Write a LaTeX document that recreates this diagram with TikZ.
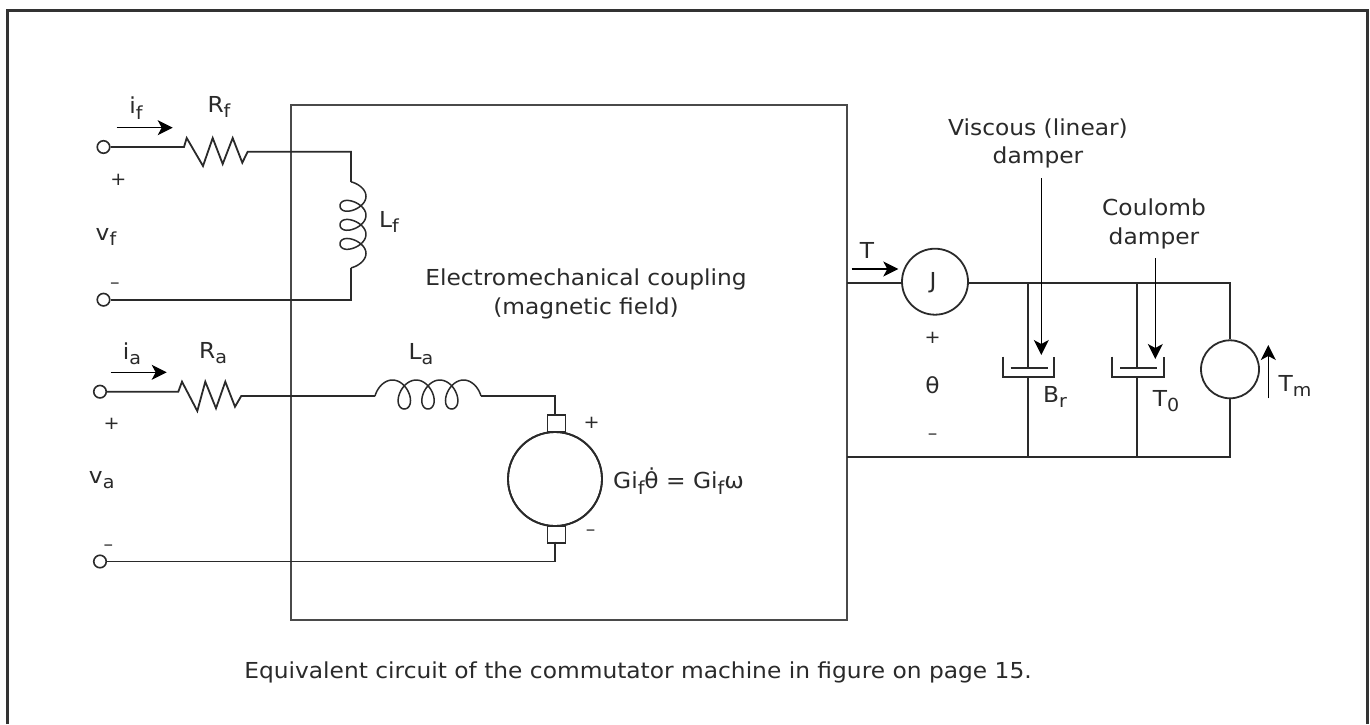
\documentclass[tikz,border=0pt]{standalone}
\usepackage{fontspec}
\setmainfont{DejaVu Sans}[FakeStretch=1.06]
\usetikzlibrary{arrows.meta}
\definecolor{ink}{HTML}{2A2A2A}
\definecolor{frameink}{HTML}{333333}
\newcommand{\subsc}[1]{\raisebox{-0.25em}{\fontsize{18}{18}\selectfont #1}}
\tikzset{
  wire/.style={draw=ink,line width=1.8pt,line join=miter},
  coilline/.style={draw=ink,line width=1.5pt},
  term/.style={circle,draw=ink,line width=1.6pt,fill=white,minimum size=12.5pt,inner sep=0pt},
  disc/.style={circle,draw=ink,line width=1.8pt,fill=white,inner sep=0pt},
  lbl/.style={inner sep=0pt,text=ink,font=\fontsize{22}{28.5}\selectfont,align=center},
  signlbl/.style={lbl,font=\fontsize{18}{18}\selectfont},
  pointer/.style={draw=black,line width=1.5pt,-{Stealth[length=15pt,width=15pt,inset=4pt]}},
  brush/.style={draw=ink,line width=1.8pt,fill=white,minimum width=18pt,minimum height=17pt,inner sep=0pt},
}
\begin{document}
\begin{tikzpicture}[x=1pt,y=-1pt]
\useasboundingbox (0,0) rectangle (1370,724);
\fill[white] (0,0) rectangle (1370,724);
% outer frame (open at bottom)
\coordinate (fa) at (7,724); \coordinate (fb) at (7,10.5); \coordinate (fc) at (1367,10.5); \coordinate (fd) at (1367,724);
\draw[frameink,line width=3pt,line join=miter] (fa) -- (fb) -- (fc) -- (fd);

% coupling box
\node[draw=ink!85,line width=2.2pt,minimum width=556pt,minimum height=515pt,inner sep=0pt,outer sep=0pt] (box) at (569,362.5) {};

% field circuit
\node[term] (tf1) at (103.5,147) {};
\node[term] (tf2) at (103.5,299.7) {};
\coordinate (rf1) at (184,147);
\coordinate (rf2) at (247.7,151.7);
\coordinate (lf1) at (351,181.8);
\coordinate (lf2) at (351,267.9);
\coordinate (lfc) at (351,151.7);
\coordinate (lfd) at (351,299.7);
\draw[wire] (tf1) -- (rf1) -- (186.7,138) -- (203,166) -- (212.7,138) -- (222.7,164) -- (232.7,138) -- (242.3,162.7) -- (rf2) -- (lfc) -- (lf1);
\draw[coilline] plot[domain=-1.5708:20.4204,samples=140,smooth] ({351+13*cos(\x r)+2*cos(\x r)*cos(\x r)},{224.85+3.03*(\x-9.4248)+9.7*sin(\x r)});
\draw[wire] (lf2) -- (lfd) -- (tf2);

% armature circuit
\node[term] (ta1) at (100,391.7) {};
\node[term] (ta2) at (100,561.5) {};
\coordinate (ra1) at (178.3,391.7);
\coordinate (ra2) at (241.3,395.9);
\coordinate (la1) at (375,396);
\coordinate (la2) at (481,396);
\coordinate (lac) at (555,396);
\coordinate (gt) at (555,415.7);
\coordinate (gb) at (555,541.7);
\coordinate (lad) at (555,561.5);
\node[disc,minimum size=94pt] (gen) at (555,479) {};
\node[brush,anchor=south] (bt) at (556.5,432.7) {};
\node[brush,anchor=north] (bb) at (556.5,525) {};
\draw[wire] (ta1) -- (ra1) -- (182,381.7) -- (197.3,411) -- (205.3,381.7) -- (216,408.3) -- (225.3,381.7) -- (235,406.7) -- (ra2) -- (la1);
\draw[coilline] plot[domain=-1.5708:20.4204,samples=140,smooth] ({428+3.77*(\x-9.4248)+11.5*sin(\x r)},{396-14.5*cos(\x r)-1.5*cos(\x r)*cos(\x r)});
\draw[wire] (la2) -- (lac) -- (gt);
\draw[wire] (gb) -- (lad) -- (ta2);
\draw[ink,line width=1.8pt] (gen.center) circle (47pt);

% mechanical side
\node[disc,minimum size=66pt] (jm) at (935,281.7) {};
\node[disc,minimum size=58pt] (src) at (1230,369.3) {};
\coordinate (ms) at (847,283.3);
\coordinate (mb) at (847,457.3);
\coordinate (jl) at (902,283.3);
\coordinate (jr) at (968,283.3);
\coordinate (d1t) at (1028.3,283.3);
\coordinate (d1p) at (1028.3,367.7);
\coordinate (d1c) at (1028.3,376.7);
\coordinate (d1b) at (1028.3,457.3);
\coordinate (d2t) at (1137.3,283.3);
\coordinate (d2p) at (1137.3,367.7);
\coordinate (d2c) at (1137.3,376.7);
\coordinate (d2b) at (1137.3,457.3);
\coordinate (st) at (1230,283.3);
\coordinate (sb) at (1230,457.3);
\draw[wire] (ms) -- (jl);
\draw[wire] (jr) -- (d1t) -- (d2t) -- (st) -- (src);
\draw[wire] (src) -- (sb) -- (d2b) -- (d1b) -- (mb);
\draw[wire] (d1t) -- (d1p);
\draw[wire] (d1c) -- (d1b);
\draw[wire] (d2t) -- (d2p);
\draw[wire] (d2c) -- (d2b);
\draw[wire] (1010.7,367.7) -- (1048,367.7);
\draw[wire] (1003.3,356.7) -- (1003.3,376.7) -- (1054.3,376.7) -- (1054.3,356.7);
\draw[wire] (1120,367.7) -- (1156.7,367.7);
\draw[wire] (1112,356.7) -- (1112,376.7) -- (1163.7,376.7) -- (1163.7,356.7);

% pointers
\coordinate (pif1) at (116.7,127.7); \coordinate (pif2) at (172.7,127.7);
\coordinate (pia1) at (110.7,372.3); \coordinate (pia2) at (166.7,372.3);
\coordinate (pt1) at (851.7,269); \coordinate (pt2) at (898.3,269);
\coordinate (ptm1) at (1268.3,398.3); \coordinate (ptm2) at (1268.3,345);
\coordinate (pv1) at (1041.3,178); \coordinate (pv2) at (1041.3,355);
\coordinate (pc1) at (1155.3,258); \coordinate (pc2) at (1155.3,359);
\draw[pointer] (pif1) -- (pif2);
\draw[pointer] (pia1) -- (pia2);
\draw[pointer] (pt1) -- (pt2);
\draw[pointer] (ptm1) -- (ptm2);
\draw[pointer] (pv1) -- (pv2);
\draw[pointer] (pc1) -- (pc2);

% labels
\node[lbl] (lif) at (136,108) {i\subsc{f}};
\node[lbl] (lrf) at (219,107) {R\subsc{f}};
\node[signlbl] (lpf) at (118.3,180) {+};
\node[lbl] (lvf) at (106,237) {v\subsc{f}};
\node[signlbl] (lmf) at (115,285.7) {–};
\node[lbl] (llf) at (389,222) {L\subsc{f}};
\node[lbl] (lia) at (132,354) {i\subsc{a}};
\node[lbl] (lra) at (213,353) {R\subsc{a}};
\node[signlbl] (lpa) at (111.7,424) {+};
\node[lbl] (lva) at (101.7,480) {v\subsc{a}};
\node[signlbl] (lma) at (108.3,547.7) {–};
\node[lbl] (lla) at (421,354) {L\subsc{a}};
\node[signlbl] (lgp) at (591.7,422.7) {+};
\node[signlbl] (lgm) at (590.7,533) {–};
\node[lbl,anchor=west] (lgen) at (613,481) {Gi\subsc{f}θ̇ = Gi\subsc{f}ω};
\node[lbl] (lcpl) at (586,294) {Electromechanical coupling\\(magnetic field)};
\node[lbl] (ltq) at (867,250.7) {T};
\node[lbl] (lj) at (933,283) {J};
\node[signlbl] (ltp) at (932.7,338) {+};
\node[lbl] (lth) at (932.5,385) {θ};
\node[signlbl] (ltm) at (932.7,436.7) {–};
\node[lbl] (lvd) at (1038,143.5) {Viscous (linear)\\damper};
\node[lbl] (lcd) at (1154,224) {Coulomb\\damper};
\node[lbl] (lbr) at (1055,397) {B\subsc{r}};
\node[lbl] (lt0) at (1166,401) {T\subsc{0}};
\node[lbl] (ltmm) at (1295,386) {T\subsc{m}};
\node[lbl] (lcap) at (638,672) {Equivalent circuit of the commutator machine in figure on page 15.};
\end{tikzpicture}
\end{document}
